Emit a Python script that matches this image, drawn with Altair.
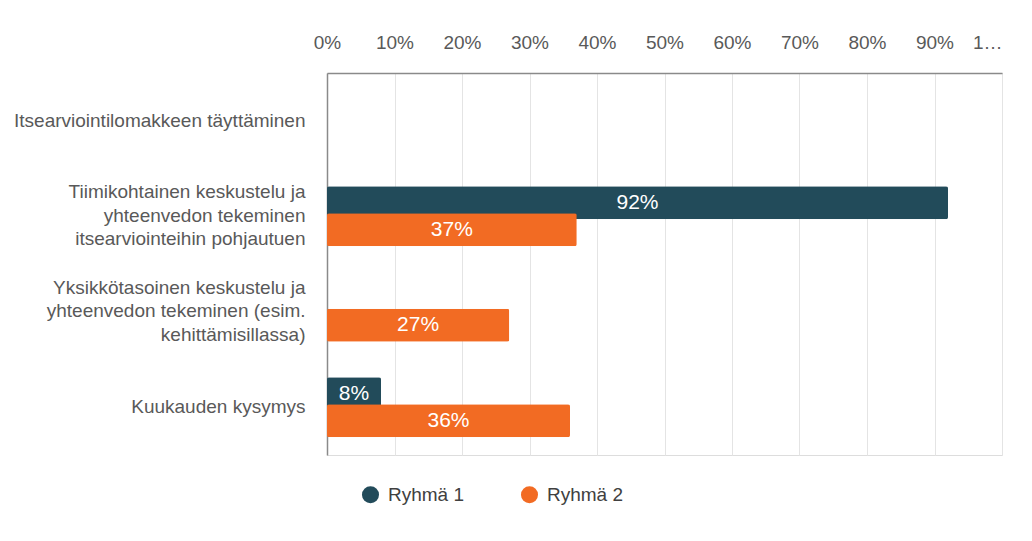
import altair as alt
import pandas as pd

categories = [
    "Itsearviointilomakkeen täyttäminen",
    "Tiimikohtainen keskustelu ja\nyhteenvedon tekeminen\nitsearviointeihin pohjautuen",
    "Yksikkötasoinen keskustelu ja\nyhteenvedon tekeminen (esim.\nkehittämisillassa)",
    "Kuukauden kysymys",
]
groups = ["Ryhmä 1", "Ryhmä 2"]
ryhma1 = [0, 92, 0, 8]
ryhma2 = [0, 37, 27, 36]
colors = ["#224B5A", "#F26B23"]
tick_values = [0, 0.1, 0.2, 0.3, 0.4, 0.5, 0.6, 0.7, 0.8, 0.9, 1.0]

rows = []
for g, vals in zip(groups, [ryhma1, ryhma2]):
    for c, v in zip(categories, vals):
        rows.append({"cat": c, "group": g, "value": v / 100.0,
                     "label": f"{v}%" if v > 0 else ""})
df = pd.DataFrame(rows)

y_enc = alt.Y("cat:N", sort=categories, title=None,
              scale=alt.Scale(paddingInner=0.435, paddingOuter=0.2175),
              axis=alt.Axis(labelExpr="split(datum.label, '\\n')", labelFontSize=19,
                            labelColor="#595959", labelFont="Liberation Sans",
                            labelLineHeight=23.5, labelPadding=22, ticks=False,
                            labelOffset={"condition": {"test": "indexof(datum.label, '\\n') >= 0",
                                                       "value": -24},
                                         "value": 0},
                            domainColor="#8a8a8a", domainWidth=1.5, labelLimit=400))
yoff = alt.YOffset("group:N", sort=groups, scale=alt.Scale(paddingInner=0, paddingOuter=0))
x_enc = alt.X("value:Q", title=None,
              scale=alt.Scale(domain=[0, 1], nice=False),
              axis=alt.Axis(orient="top", format=".0%", values=tick_values,
                            labelExpr="datum.value >= 1 ? '1…' : datum.label",
                            labelFlush=False,
                            labelAlign={"condition": {"test": "datum.value >= 1", "value": "right"},
                                        "value": "center"},
                            labelOverlap=False, labelFontSize=19, labelColor="#595959",
                            labelFont="Liberation Sans", labelPadding=21, ticks=False,
                            domainColor="#8a8a8a", domainWidth=1.5,
                            gridColor="#e4e4e4", gridWidth=1))

bars = alt.Chart(df).mark_bar(size=33, cornerRadius=2).encode(
    x=x_enc,
    y=y_enc,
    yOffset=yoff,
    color=alt.Color("group:N", sort=groups,
                    scale=alt.Scale(domain=groups, range=colors),
                    legend=alt.Legend(title=None, orient="none", direction="horizontal",
                                      legendX=34, legendY=412, symbolType="circle",
                                      symbolSize=290, labelFontSize=19, labelColor="#404040",
                                      labelFont="Liberation Sans", columnPadding=55,
                                      symbolOpacity=1, labelOffset=8)),
)

texts = alt.Chart(df).transform_calculate(mid="datum.value / 2").mark_text(
    color="white", fontSize=21, font="Liberation Sans", baseline="middle", align="center"
).encode(
    x=alt.X("mid:Q"),
    y=alt.Y("cat:N", sort=categories),
    yOffset=alt.YOffset("group:N", sort=groups),
    text="label:N",
)

chart = (bars + texts).properties(
    width=675, height=382,
    padding={"left": 5, "top": 25, "right": 5, "bottom": 5},
).configure_view(stroke=None).configure(background="white")

chart.save("out.html", embed_options={"renderer": "svg", "actions": False})
